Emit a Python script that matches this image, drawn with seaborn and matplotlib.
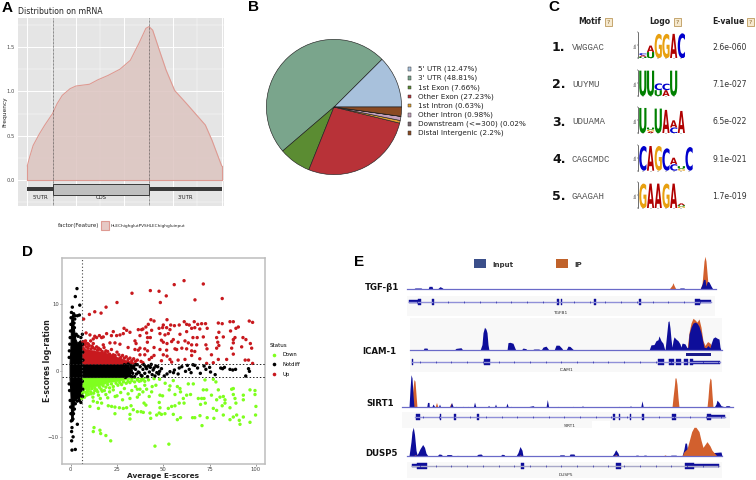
import numpy as np
import pandas as pd
import seaborn as sns
from matplotlib import pyplot as plt
from matplotlib.font_manager import FontProperties
from matplotlib.patches import PathPatch, Rectangle
from matplotlib.textpath import TextPath
from matplotlib.transforms import Affine2D, Bbox

# panel A: metagene density
metagene_pos = [0, .012, .03, .062, .09, .13, .153, .18, .22, .25, .32, .363, .416, .477, .53, .574, .61, .626, .645, .68, .714, .758, .82, .872, .916, .95, .986, 1]
metagene_freq = [.16, .26, .39, .52, .62, .75, .86, .955, 1.03, 1.06, 1.08, 1.13, 1.18, 1.25, 1.35, 1.54, 1.71, 1.73, 1.69, 1.46, 1.24, 1.01, .86, .73, .62, .45, .24, .16]
cds_start, cds_stop = .13, .626
a_yticks = [0.0, 0.5, 1.0, 1.5]

# panel B: peak annotation
pie_names = ["5' UTR (12.47%)", "3' UTR (48.81%)", "1st Exon (7.66%)", "Other Exon (27.23%)", "1st Intron (0.63%)",
             "Other Intron (0.98%)", "Downstream (<=300) (0.02%)", "Distal Intergenic (2.2%)"]
pie_values = [12.47, 48.81, 7.66, 27.23, 0.63, 0.98, 0.02, 2.2]
pie_colors = ['#a8c1dc', '#7aa58c', '#5b8c32', '#b83238', '#e0a030', '#c4a0bc', '#7b6a70', '#8a4a22']

# panel C: motif table
motif_names = ['VWGGAC', 'UUYMU', 'UDUAMA', 'CAGCMDC', 'GAAGAH']
motif_evalues = ['2.6e-060', '7.1e-027', '6.5e-022', '9.1e-021', '1.7e-019']
motif_logos = [
    [[('U', .12), ('A', .12), ('C', .16)], [('U', .48), ('A', .5)], [('G', 1.88)], [('G', 1.88)], [('A', 1.88)], [('C', 1.92)]],
    [[('U', 1.95)], [('U', 1.95)], [('U', .45), ('C', .52)], [('A', .45), ('C', .5)], [('U', 1.95)]],
    [[('U', 1.95)], [('A', .14), ('G', .14), ('U', .16)], [('U', 1.9)], [('A', 1.8)], [('C', .45), ('A', .55)], [('A', 1.72)]],
    [[('C', 1.9)], [('A', 1.9)], [('G', 1.9)], [('C', 1.72)], [('C', .5), ('A', .5)], [('G', .15), ('U', .2)], [('C', 1.82)]],
    [[('G', 1.9)], [('A', 1.9)], [('A', 1.9)], [('G', 1.9)], [('A', 1.9)], [('G', .14), ('U', .1), ('A', .14)]],
]
logo_colors = {'A': '#b00000', 'C': '#0000cc', 'G': '#e8a010', 'U': '#008000'}

# panel D: sparse points
up_x = [61.2, 71.6, 55.9, 43, 47.7, 33.1, 51.6, 81.8, 67.1, 48.4, 25, 19.1, 13, 10.1, 16.4, 7,
        41.9, 43.3, 45, 50, 52, 54, 56, 58.6, 61.3, 62.6, 64, 66.7, 68.6, 70.7, 72.8, 79.7, 81.8, 86, 87.8, 96.4, 98.2,
        39, 40.6, 43.7, 47.7, 49.6, 51.8, 53.6, 38.3, 36.5, 28.8, 30.2, 32, 65.3, 67, 69.7, 73.7, 90.5, 89.2, 86.3, 62.6, 80, 48.2, 52.7, 41, 37.4,
        19.4, 23, 22, 24.8, 28.4, 26.6, 17.6, 16.7, 14, 12.2, 10.8, 8.3, 10.4, 13, 15.5, 50.9, 41.5, 43, 59, 66, 68.3, 71.6, 78.8, 82.4, 88.7, 87.8, 93, 94.6,
        7.7, 9.5, 12.2, 17.6, 21.2, 23.9, 26.6, 34.7, 35.3, 41.4, 49, 50, 55.4, 54.5, 52, 58, 61.7, 63.5, 65.3, 68, 73, 79.4, 80, 87.8, 97,
        31, 36.5, 37.4, 34.7, 40, 41.5, 45, 48.2, 51.8, 56.3, 57.2, 60, 62.6, 65.3, 67, 73.6, 78.8, 86.9, 92.3, 97.7,
        37.4, 40, 45, 50, 52, 53.6, 43.7, 42.4, 49, 54.5, 58, 61.7, 65.3, 69.7, 76, 79.7, 84.2, 87.8, 94.2, 96, 98.2, 77, 73.4,
        # fringe above the red wedge
        6.6, 7, 7.5, 8, 8.6, 9, 9.4, 10, 11, 11.5, 12, 13, 14, 14.5, 15, 16, 17, 18, 18.5, 19, 20, 21, 22, 23, 24, 25, 26, 27, 28, 29, 30, 31, 32, 33, 34, 35, 36, 38, 39]
up_y = [13.6, 13.1, 13, 12.1, 12, 11.7, 11.3, 10.9, 10.7, 10.3, 10.3, 9.6, 8.9, 8.5, 8.7, 7.8,
        7, 7.7, 7.5, 6.9, 7.7, 6.9, 6.8, 6.9, 7.4, 7, 6.9, 7.4, 7, 7.1, 7.1, 7.2, 7.1, 7.4, 7.4, 7.5, 7.3,
        6.3, 6.6, 6.1, 6.4, 6.5, 6.5, 6.2, 6.2, 6.2, 6.4, 6.1, 5.8, 6.4, 6.5, 6.3, 6.4, 6.6, 6.4, 6, 5.9, 5.8, 5.6, 5.6, 5.7, 5.3,
        5.6, 5.9, 5.3, 5.3, 5.6, 5.4, 5.1, 5, 5, 4.8, 4.5, 5.7, 5.4, 5.2, 5.3, 5.4, 5, 5, 5.5, 5, 5, 5.1, 5, 5.1, 5, 4.7, 5, 4.7,
        4.2, 4, 4.1, 3.9, 4.2, 4.2, 4, 4.5, 4.1, 4.3, 4.6, 4.3, 4.7, 4.4, 4.1, 4.3, 4.5, 4.2, 3.9, 3.9, 3.9, 4.3, 3.8, 4.2, 4.1,
        3.5, 3.1, 3.4, 3.2, 3.3, 3, 3.5, 3.2, 3.1, 3.3, 3.2, 3.4, 3.3, 3, 2.9, 3.3, 3.4, 3.4, 3.6, 3.4,
        2.4, 2.4, 2.3, 2.4, 2.2, 1.7, 2, 1.7, 1.5, 1.3, 1.6, 1.7, 2.3, 1.8, 2.4, 1.7, 1.7, 2.5, 1.6, 1.6, 1.1, 1.2, 1.1,
        4.4, 4, 3.9, 4.5, 3.6, 4.1, 3.4, 3.8, 3.3, 3.7, 3.5, 3.3, 3.6, 3.1, 3.4, 3.2, 2.9, 3.5, 2.7, 3, 2.9, 2.5, 3.2, 2.4, 2.3, 2.8, 2.4, 2, 2.3, 1.9, 2.1, 1.7, 1.9, 1.5, 1.8, 1.4, 1.6, 1.4, 1.2]
down_x = [6, 8.6, 10.4, 12.2, 14.4, 16.7, 15, 20.3, 22.1, 23.9, 26.3, 28.4, 30.2, 32.6, 33.8, 36, 38, 39.2, 23.9, 32, 32, 42.8, 43.2, 46.4, 47.8, 49, 50.9, 55.4, 57.6, 59.3,
          65.8, 67, 69.8, 70.9, 73.7, 77.3, 82.4, 86, 87.8, 89.6, 91.4, 93.2, 91, 96.8, 99.8,
          12.6, 12.2, 15.8, 16.2, 19, 21.6, 45.5, 53,
          37.4, 36, 41, 39, 43.7, 42.4, 39.6, 40.6, 48.2, 49.6, 47.8, 48.2, 53.6, 53.2, 55.4, 57.6, 59, 59.3, 56.3, 54.5, 52.7, 56.3, 58.6, 60.8, 61.2, 63.5, 66.2, 62.6, 64.7,
          71.6, 73.4, 72.5, 77, 78.4, 68.9, 70.7, 72, 70.1, 72.7, 76, 79.7, 78.8, 80.6, 82.4, 83.3, 86, 77, 78.8, 81.8, 83.3, 87.8, 86.9, 87.8, 88.7, 89.2, 93.2, 96.8, 99.5, 99.5, 93.2, 100,
          9, 11, 13, 15, 17, 19, 21, 23, 25, 27, 29, 31, 33, 35, 37, 40, 44, 46, 51, 8, 12, 16, 20, 24, 28, 32, 36,
          # fringe under the green wedge
          6.5, 7, 7.5, 8.2, 9, 9.6, 10, 10.8, 11.5, 12.4, 13, 14, 14.6, 15.5, 16.4, 17.5, 18.2, 19, 20, 21, 22, 23, 24.5, 25.5, 26.5, 27.5, 28.5, 30, 31, 32, 33, 34.5, 36, 37, 38, 39, 40, 42, 45, 48]
down_y = [-4.2, -3.7, -5.4, -4.6, -4.8, -4.9, -5.7, -5.3, -5.4, -5.5, -5.6, -5.7, -5.6, -5.3, -5.9, -6.2, -6.2, -6.3, -6.5, -6.6, -7.3, -6.4, -7.2, -6.7, -6.4, -6.6, -6.5, -6.6, -7.4, -7.1,
          -7.1, -7.1, -6.8, -8.3, -7.1, -7.2, -6.7, -7.4, -7, -6.7, -8.1, -7, -7.5, -7.8, -6.7,
          -8.6, -9.2, -9, -9.5, -9.8, -10.6, -11.4, -11.1,
          -2.8, -2.8, -2.8, -3.2, -3.2, -3.9, -4.9, -5.2, -3.7, -3.8, -4.8, -5.6, -2.3, -2.9, -1.5, -2.4, -2.7, -3.2, -3.6, -5.4, -5.7, -5.3, -4.9, -4.2, -4.9, -2, -2, -3.7, -3.6,
          -2.9, -2.9, -1.4, -1.3, -1.7, -4.2, -4.2, -4.2, -5.1, -4.9, -3.7, -2.9, -4.4, -4, -3.9, -4.4, -5.6, -5.7, -6, -5.3, -4.9, -2.7, -2.8, -3.6, -4.2, -4.9, -3.7, -2.9, -3, -3.6, -4.4, -5.4,
          -3.2, -3.5, -3, -3.7, -3.1, -3.6, -3.2, -2.9, -3.8, -3.3, -2.7, -3.5, -3, -2.4, -3.6, -2.2, -2.4, -2.2, -1.9, -2.6, -4, -4.2, -4.1, -3.9, -4.4, -4.2, -4,
          -3.4, -3.1, -4, -3.3, -2.9, -3.6, -2.8, -3.2, -2.7, -3.4, -2.6, -2.9, -3.2, -2.5, -2.8, -2.3, -3, -2.5, -2.1, -2.6, -2, -2.4, -1.9, -2.2, -1.8, -2.1, -1.7, -1.9, -1.6, -1.8, -1.5, -1.7, -1.4, -1.6, -1.5, -1.3, -1.6, -1.4, -1.2, -1.3]
flat_x = [3.4, 2.5, 4.9, .9, 4.7, 2.3, 3.6, 1.4, 6.3, 3.6, .7, .5, 1.3, .5, .7, 2.5,
          31, 32, 33, 34, 34.5, 35, 35.5, 36, 37, 37.5, 38, 39, 39.5, 40, 41, 41.5, 42, 42.5, 43, 43.5, 44, 44.5, 45, 45.5, 46, 46.5, 47, 47.5, 48, 49,
          53.6, 55.5, 56, 58, 58.6, 60, 62, 63, 64, 66, 67, 68.5, 70, 72, 73, 75, 75.5, 78, 81, 82, 83, 86, 87.5, 89, 96, 96.5, 94.5, 65, 52, 50.5,
          # fringe round the dense column and the end of the band
          5.5, 4, 3, 2.5, 2, 1.8, 2.2, 1.6, .4, .2, .1, -.1, -.3, -.5, -.7, -.8, 5.5, 4.5, 3.5, 2.5, 2, 1.5, 1.2, .8, .3, .1, 0, -.3, -.6, -.8,
          6.4, 6.5, 6.6, 6.3, 6.5, 6.4, 29, 30, 30.5, 31.5, 32.5, 33.5, 29.5, 31, 33, 34, 35, 36.5, 38.5, 40.5]
flat_y = [12.4, 11.2, 9.9, 9.6, 8.4, 8.3, 8.3, 8.2, 5.5, -8.1, -8.6, -9.2, -10, -10.6, -12, -11.9,
          .9, -.8, .5, .7, -.9, .2, -.5, .9, -.3, .6, -.7, .2, .9, -.4, .3, -.9, .7, -.2, .5, .95, -.6, .1, .4, -.8, .7, -.3, .6, -.5, -.1, .3,
          -.15, -.3, .1, -.5, .4, .6, -.1, .8, .2, .9, .8, .4, -.4, .7, .2, .5, -.2, -.6, .4, .3, .5, .2, .1, .2, .3, -.1, -.8, -.3, -.5, -.8,
          5, 5.2, 5.5, 5.3, 6.5, 7.2, 7.8, 8.6, 8.8, 8, 7, 6, 5, 4, 3, 2, -4.8, -4.5, -4.6, -5, -5.8, -6.5, -7.3, -7.5, -7.6, -6.5, -5.5, -4.5, -3, -2,
          4, 2.8, 1.6, -1.6, -2.8, -3.9, .9, -.9, .6, -.6, .8, -.4, -1, 1, -.9, .4, .9, -.2, -.8, .6]
d_status = ['Up'] * len(up_x) + ['Down'] * len(down_x) + ['Notdiff'] * len(flat_x)
# dense masses where single points cannot be told apart
flat_mass_x = [-.6, -.2, .3, 1, 1.8, 2.5, 3.5, 5, 6, 6.1, 15, 25, 29, 31, 33]
flat_mass_top = [1.2, 3, 7.8, 8.4, 6.2, 4.8, 4.2, 4.6, 4.2, 1.1, 1.05, 1.05, 1, .8, .2]
flat_mass_bottom = [-1.2, -3, -7.4, -7.2, -4.6, -4.4, -4.1, -4.4, -4, -1.1, -1.05, -1.05, -1, -.8, -.2]
up_mass_x = [6.2, 8, 12, 16, 21, 25, 30, 33, 36]
up_mass_top = [3.9, 3.3, 3.1, 2.9, 2.6, 2.1, 1.6, 1.4, 1.0]
down_mass_x = [6.2, 8, 12, 16, 21, 25, 30, 35, 41]
down_mass_bottom = [-2.9, -2.7, -2.4, -2.2, -1.7, -1.6, -1.3, -1.15, -1.0]
d_xticks = [0, 25, 50, 75, 100]
d_yticks = [-10, 0, 10]

# panel E: coverage tracks, positions along the browser window
tgf_in_x = [13, 15, 21, 23, 28, 29, 32, 33, 37, 40, 42, 44, 279, 280, 284, 285, 300, 302, 303.5, 305, 306, 307, 308, 309, 311, 313]
tgf_in_y = [0, .04, .04, 0, 0, .09, .09, 0, 0, .08, .05, 0, 0, .04, .04, 0, 0, .15, .3, .3, .1, .22, .24, .22, .1, 0]
tgf_ip_x = [269, 272, 273, 274, 276, 300, 302, 303, 304, 305, 306, 307, 308, 310]
tgf_ip_y = [0, .12, .2, .12, 0, 0, .15, .5, .85, 1, .85, .5, .15, 0]
icam_in_x = [23, 24, 27, 28, 54, 56, 61, 63, 80, 82, 83, 84.5, 86, 87, 88, 89, 107, 108, 110, 113, 115, 116, 121, 123, 126, 127, 131, 134, 139, 140,
             141, 143, 146, 148, 149, 154, 156, 159, 162, 163, 166, 168, 170, 173, 174, 240, 241, 244, 245, 249, 251, 254, 256, 258, 259, 261, 263, 264,
             265, 266, 268, 269, 270, 271, 272, 273, 274, 276, 278, 280, 281, 282, 283, 285, 287, 288, 289, 291, 293, 295, 297, 299, 301, 303, 304, 306, 308, 310, 311, 313, 315, 317, 319, 320, 321]
icam_in_y = [0, .07, .07, 0, 0, .06, .08, 0, 0, .18, .55, .72, .66, .55, .18, 0, 0, .24, .25, .22, .06, 0, 0, .07, .05, 0, 0, .04, .04, 0,
             0, .1, .13, .05, 0, 0, .16, .16, .06, 0, 0, .13, .12, .03, 0, 0, .02, .02, 0, 0, .17, .18, .3, .33, .45, .3, .22, .1,
             0, .3, .9, .92, .7, .35, .1, .3, .42, .35, .3, .2, .1, .22, .22, .2, .08, .1, .5, .72, .85, .88, .85, .75, .55, .25, .1, .08, .15, .08, .2, .38, .42, .38, .35, .1, 0]
icam_ip_x = [56, 66, 68, 72, 287, 289, 291, 293, 295, 297, 299, 301, 303, 305, 307, 308, 310, 312, 313]
icam_ip_y = [0, 0, .02, 0, 0, .55, .85, 1, .95, .88, .98, .72, .3, .15, .25, .27, .22, .12, 0]
sirt_in_x = [9, 10, 11, 12, 13, 14, 26.7, 27.5, 29, 29.3, 31.7, 33, 35, 38.3, 39.5, 40.7, 50, 51.5, 53.3, 55, 56, 58, 61.7, 63, 65, 67, 68, 69, 73.3, 74.5, 76,
             87.3, 88.5, 90, 94.3, 95.5, 96.7, 105.7, 107, 108.3, 110, 111, 112.7, 125, 130, 133, 135, 146, 147.3, 148.7, 157, 158, 158.7, 171.7, 173, 175, 181.7, 182.5, 183.3,
             218, 219, 220.7, 229.3, 230.5, 231.7, 240.7, 242, 243.3, 248, 249, 250, 280, 281, 283, 296, 297, 314, 316, 317, 319, 321, 323, 325, 326, 327, 329, 331]
sirt_in_y = [0, .55, 1, .9, .4, 0, 0, .15, .15, 0, 0, .1, 0, 0, .1, 0, 0, .15, 0, 0, .03, 0, 0, .03, 0, 0, .03, 0, 0, .16, 0,
             0, .06, 0, 0, .1, 0, 0, .13, 0, 0, .03, 0, 0, .03, .05, 0, 0, .24, 0, 0, .03, 0, 0, .03, 0, 0, .06, 0,
             0, .03, 0, 0, .05, 0, 0, .2, 0, 0, .03, 0, 0, .02, 0, 0, .02, 0, .1, .22, .15, .05, .03, 0, .05, .05, .05, 0]
sirt_ip_x = [10, 12, 13, 14, 15, 16, 17, 35, 36.5, 38, 49, 51, 53, 272, 273, 274.5, 275, 276, 277, 278, 279, 307, 308, 309, 310, 311, 312, 313]
sirt_ip_y = [0, .3, .6, .85, .8, .4, 0, 0, .15, 0, 0, .13, 0, 0, .3, .7, .9, .9, .7, .3, 0, 0, .3, .7, .9, .85, .4, 0]
dusp_in_x = [9, 11, 12, 13.3, 14.5, 16, 17, 18, 20, 22.7, 24.5, 26, 28, 37, 39, 41, 43, 46, 47, 51, 53, 56, 57, 76, 78, 81, 83, 100, 102, 104, 105,
             116, 118, 120, 122, 123, 159, 160, 164, 165, 169, 170, 174, 175, 212, 214, 215.7, 218, 219, 235, 236, 238, 239, 243, 244, 246, 247, 270, 271, 276, 277, 282, 284, 285, 286.5, 288, 312, 313.5, 321, 322]
dusp_in_y = [0, .5, .85, 1, .75, .2, .05, .1, .25, .4, .3, .1, 0, 0, .07, .06, 0, 0, .05, .05, 0, 0, .02, 0, .06, .07, 0, 0, .06, .05, 0,
             0, .12, .33, .2, 0, 0, .04, .04, 0, 0, .07, .07, 0, 0, .1, .22, .1, 0, 0, .03, .03, 0, 0, .03, .03, 0, 0, .03, .03, 0, 0, .25, .45, .45, .1, .03, .12, .14, 0]
dusp_ip_x = [13, 15, 18, 118, 120, 122, 213, 216, 218, 263, 265, 267, 282, 284, 287, 289, 291.7, 294, 296, 299, 301, 303, 305, 307, 310, 312, 315, 317]
dusp_ip_y = [0, .04, 0, 0, .04, 0, 0, .05, 0, 0, .04, 0, 0, .15, .25, .5, .85, 1, 1, .85, .55, .3, .4, .5, .35, .2, .08, 0]

# gene models: tall exons, thin exons
genes = {
    'TGFB1': dict(span=(9, 311), tall=[(18, 21), (32, 34), (157, 159), (161, 162), (194, 195.5), (239, 241), (295, 300)], thin=[(9, 18), (300, 311)]),
    'ICAM1': dict(span=(12, 320), tall=[(12, 13), (84, 90), (258, 264), (269, 274), (276, 281), (284, 288), (290, 293)], thin=[(293, 320)]),
    'SIRT1': dict(span=(15, 325), tall=[(15.5, 20), (40, 40.7), (54, 56), (77, 78.5), (213, 214.5), (218.5, 220), (230, 231), (242, 243.5), (272, 276), (307, 311)], thin=[(311, 325)]),
    'DUSP5': dict(span=(12, 319), tall=[(17, 27), (121, 124), (216, 221), (285, 294)], thin=[(12, 17), (294, 319)]),
}

PANEL_FONT = 'Liberation Sans'
fig = plt.figure(figsize=(7.56, 4.8), dpi=100, facecolor='white')
plt.rcParams['font.family'] = ['DejaVu Sans']


def px_axes(x0, y0, x1, y1, **kw):
    # axes placed in reference pixels, y counted from the top
    return fig.add_axes([x0 / 756, 1 - y1 / 480, (x1 - x0) / 756, (y1 - y0) / 480], **kw)


page = px_axes(0, 0, 756, 480)
page.set_xlim(0, 756)
page.set_ylim(480, 0)
page.axis('off')

for letter, lx, ly in [('A', 2, 8), ('B', 248, 7), ('C', 548, 7), ('D', 22, 252), ('E', 354, 262)]:
    page.text(lx, ly, letter, fontsize=11, fontweight='bold', family=PANEL_FONT, va='center', color='black')

# --- A ---
ax_a = px_axes(18, 18, 224, 206, facecolor='#e5e5e5')
sns.lineplot(x=metagene_pos, y=metagene_freq, ax=ax_a, color='#de9a92', lw=.8, sort=False, errorbar=None)
ax_a.fill_between(metagene_pos, metagene_freq, color='#dcc4c0', alpha=.85, lw=0)
ax_a.plot([0, 0], [0, metagene_freq[0]], color='#de9a92', lw=.8)
ax_a.plot([1, 1], [0, metagene_freq[-1]], color='#de9a92', lw=.8)
ax_a.plot([0, 1], [0, 0], color='#de9a92', lw=.8)
ax_a.set_xlim(-.048, 1.012)
ax_a.set_ylim(-.293, 1.827)
ax_a.set_axisbelow(True)
ax_a.set_xticks([0, .25, .5, .75, 1])
ax_a.set_xticks([.125, .375, .625, .875], minor=True)
ax_a.set_yticks(a_yticks)
ax_a.set_yticks([-.25, .25, .75, 1.25, 1.75], minor=True)
ax_a.grid(which='major', color='white', lw=.7)
ax_a.grid(which='minor', color='white', lw=.3)
ax_a.tick_params(which='both', length=0, labelbottom=False)
ax_a.tick_params(axis='y', labelsize=3.8, labelcolor='#4d4d4d', pad=2)
ax_a.set_yticklabels(['0.0', '0.5', '1.0', '1.5'])
ax_a.set_xlabel('')
ax_a.set_ylabel('')
for sp in ax_a.spines.values():
    sp.set_visible(False)
for edge in (cds_start, cds_stop):
    ax_a.axvline(edge, color='#333333', lw=.5, ls=(0, (1, 1)))
ax_a.fill_between([0, 1], -.125, -.08, color='#3a3a3a', lw=0)
ax_a.add_patch(Rectangle((cds_start, -.165), cds_stop - cds_start, .125, fc='#bfbfbf', ec='#3a3a3a', lw=.7, zorder=3))
for tx, word in [(.065, "5'UTR"), (.378, 'CDS'), (.813, "3'UTR")]:
    ax_a.text(tx, -.2, word, fontsize=3.8, ha='center', va='center', color='#222222')
page.text(5, 112, 'Frequency', fontsize=4.2, rotation=90, ha='center', va='center', color='#222222')
page.text(18, 11, 'Distribution on mRNA', fontsize=5.6, va='center', color='#222222')
page.text(58, 225.5, 'factor(Feature)', fontsize=4, va='center', color='#222222')
page.add_patch(Rectangle((100.5, 221), 8.5, 8.5, fc='#e6c9c5', ec='#de9a92', lw=.8))
page.text(111, 225.5, 'HLEChighglutPVSHLEChighgluinput', fontsize=3.05, va='center', color='#222222')

# --- B ---
ax_b = px_axes(263, 36, 405, 178)
wedges, _ = ax_b.pie(pie_values, colors=pie_colors, startangle=0, counterclock=True, radius=1,
                     wedgeprops=dict(edgecolor='#222222', linewidth=.45))
ax_b.set_xlim(-1.05, 1.05)
ax_b.set_ylim(-1.05, 1.05)
for row, (name, colour) in enumerate(zip(pie_names, pie_colors)):
    row_y = 69 + row * 9.15
    page.add_patch(Rectangle((408, row_y - 1.8), 2.8, 3.6, fc=colour, ec='#333333', lw=.35))
    label = page.text(417.5, row_y, name, fontsize=5.25, va='center', color='#222222', clip_on=True)
    # the reference cuts the long label at the panel edge
    label.set_clip_box(Bbox([[400, 0], [525.5, 480]]))

# --- C ---
for word, wx, bx in [('Motif', 590, 608.5), ('Logo', 660, 677.5), ('E-value', 728, 750.5)]:
    page.text(wx, 22, word, fontsize=5.6, fontweight='bold', ha='center', va='center', color='#222222')
    page.text(bx, 22, '?', fontsize=4.5, ha='center', va='center', color='#8a6a30',
              bbox=dict(boxstyle='square,pad=0.25', fc='#f6e9cf', ec='#b08840', lw=.5))
row_centres = [47.3, 84.7, 122, 159.7, 196.7]
logo_bases = [58.3, 96, 133.3, 170.7, 208.3]
letter_font = FontProperties(family='DejaVu Sans', weight='bold')
for i, (name, evalue) in enumerate(zip(motif_names, motif_evalues)):
    page.text(552, row_centres[i], f'{i + 1}.', fontsize=9, fontweight='bold', va='center', color='#111111')
    page.text(572, row_centres[i], name, fontsize=6.6, family='Liberation Mono', va='center', color='#555555')
    page.text(712.5, row_centres[i], evalue, fontsize=5.6, va='center', color='#333333')
    logo = motif_logos[i]
    base = logo_bases[i]
    ax_l = px_axes(639, base - 26, 639 + 7.7 * len(logo), base, facecolor='none')
    ax_l.set_xlim(0, len(logo))
    ax_l.set_ylim(0, 2)
    for pos, stack in enumerate(logo):
        floor = 0
        for letter, height in stack:
            glyph = TextPath((0, 0), letter, size=1, prop=letter_font)
            box = glyph.get_extents()
            place = (Affine2D().translate(-box.x0, -box.y0).scale(.94 / box.width, height / box.height)
                     .translate(pos + .03, floor))
            ax_l.add_patch(PathPatch(place.transform_path(glyph), fc=logo_colors[letter], ec='none'))
            floor += height
    ax_l.set_xticks(np.arange(len(logo)) + .5)
    ax_l.set_yticks([0, 1, 2])
    ax_l.tick_params(length=1, width=.3, labelleft=False, labelbottom=False, pad=0)
    for side in ('top', 'right', 'bottom'):
        ax_l.spines[side].set_visible(False)
    ax_l.spines['left'].set_linewidth(.4)
    ax_l.spines['left'].set_position(('outward', 1))
    page.text(636, base - 13, 'bits', fontsize=2.2, rotation=90, ha='center', va='center', color='#333333')

# --- D ---
ax_d = px_axes(61.7, 258.3, 265, 464)
d_frame = pd.DataFrame({'x': up_x + down_x + flat_x, 'y': up_y + down_y + flat_y, 'Status': d_status})
ax_d.fill_between(flat_mass_x, flat_mass_bottom, flat_mass_top, color='black', lw=.8, zorder=1)
ax_d.fill_between(up_mass_x, 1.05, up_mass_top, color='#c8191e', lw=.4, zorder=2)
ax_d.fill_between(down_mass_x, down_mass_bottom, -1.05, color='#7fff1e', lw=.4, zorder=2)
sns.scatterplot(data=d_frame, x='x', y='y', hue='Status', hue_order=['Down', 'Notdiff', 'Up'],
                palette={'Down': '#7fff1e', 'Notdiff': 'black', 'Up': '#c8191e'},
                s=6, linewidth=0, ax=ax_d, zorder=3)
ax_d.axhline(1, color='#222222', lw=.7, ls=(0, (1.5, 2)), zorder=4)
ax_d.axhline(-1, color='#222222', lw=.7, ls=(0, (1.5, 2)), zorder=4)
ax_d.axvline(6, color='#444444', lw=.8, ls=(0, (1, 2)), zorder=4)
ax_d.set_xlim(-4.85, 104.9)
ax_d.set_ylim(-14.1, 16.98)
ax_d.set_xticks(d_xticks)
ax_d.set_yticks(d_yticks)
ax_d.tick_params(labelsize=3.8, length=1.2, width=.4, pad=.8, labelcolor='#444444', color='#444444')
ax_d.set_xlabel('')
ax_d.set_ylabel('')
page.text(163, 476, 'Average E-scores', fontsize=5.3, fontweight='bold', ha='center', va='center', color='#222222')
page.text(47, 361, 'E-scores log-ration', fontsize=5.6, fontweight='bold', rotation=90, ha='center', va='center', color='#222222')
for sp in ax_d.spines.values():
    sp.set_color('#bdbdbd')
    sp.set_linewidth(1.1)
leg = ax_d.legend(title='Status', loc='upper left', bbox_to_anchor=(1.01, .6), frameon=False, fontsize=3.8,
                  title_fontsize=4, labelspacing=.9, markerscale=1.05, alignment='left', handletextpad=.6, borderaxespad=0)
for handle in leg.legend_handles:
    handle.set_markersize(2.6)

# --- E ---
track_colors = {'input': '#0e0e9a', 'ip': '#d2602e', 'base': '#6a6ac8'}
page.add_patch(Rectangle((474, 259), 11.5, 9, fc='#3b4f8a', ec='none'))
page.add_patch(Rectangle((556, 259), 11.5, 9, fc='#c0622a', ec='none'))
page.text(492, 265, 'Input', fontsize=5, fontweight='bold', va='center', color='#333333')
page.text(574, 265, 'IP', fontsize=5, fontweight='bold', va='center', color='#333333')

for name, tx, ty in [('TGF-β1', 365, 288), ('ICAM-1', 362, 352), ('SIRT1', 366, 403), ('DUSP5', 365, 454)]:
    page.text(tx, ty, name, fontsize=6.2, fontweight='bold', va='center', color='#111111')

# grey gene panels behind the tracks
for bx, by, bw, bh in [(407, 296, 308, 20), (410, 318, 312, 54), (402, 412, 328, 16), (407, 462, 315, 16)]:
    page.add_patch(Rectangle((bx, by), bw, bh, fc='#f8f8f8', ec='none'))
page.add_patch(Rectangle((592, 421), 18, 7, fc='white', ec='none'))


def draw_track(x_in, y_in, x_ip, y_ip, base_px, height_px, x_from, x_to, ip_front=False):
    ax = px_axes(400, base_px - height_px, 740, base_px, facecolor='none')
    ax.set_xlim(0, 340)
    ax.set_ylim(0, 1)
    ax.axis('off')
    ax.fill_between(x_ip, y_ip, color=track_colors['ip'], lw=0, zorder=3 if ip_front else 1)
    ax.fill_between(x_in, y_in, color=track_colors['input'], lw=0, zorder=2)
    ax.plot([x_from, x_to], [0, 0], color=track_colors['base'], lw=.9, clip_on=False, zorder=4)
    return ax


draw_track(tgf_in_x, tgf_in_y, tgf_ip_x, tgf_ip_y, 289.3, 33, 7, 316)
draw_track(icam_in_x, icam_in_y, icam_ip_x, icam_ip_y, 350.3, 32, 10, 322)
draw_track(sirt_in_x, sirt_in_y, sirt_ip_x, sirt_ip_y, 407.3, 32.6, 2, 333)
draw_track(dusp_in_x, dusp_in_y, dusp_ip_x, dusp_ip_y, 456, 28.7, 7, 322, ip_front=True)


def draw_gene(name, y_px, label_px, line_colour='#9090d8'):
    spec = genes[name]
    ax = px_axes(400, y_px - 4, 740, y_px + 4, facecolor='none')
    ax.set_xlim(0, 340)
    ax.set_ylim(-4, 4)
    ax.axis('off')
    ax.plot(spec['span'], [0, 0], color=line_colour, lw=1)
    ticks = np.arange(spec['span'][0] + 8, spec['span'][1], 15.7)
    ax.plot(ticks, np.zeros(len(ticks)), ls='none', marker='|', ms=1.6, mew=.4, color=track_colors['input'])
    for a, b in spec['tall']:
        ax.fill_between([a, b], -3, 3, color=track_colors['input'], lw=.3)
    for a, b in spec['thin']:
        ax.fill_between([a, b], -1.7, 1.7, color=track_colors['input'], lw=.3)
    page.text(sum(spec['span']) / 2 + 400, label_px, name, fontsize=3.2, ha='center', va='center', color='#333333')


draw_gene('TGFB1', 301.7, 313)
draw_gene('ICAM1', 362.3, 370)
draw_gene('SIRT1', 416.7, 426)
draw_gene('DUSP5', 465.7, 475, line_colour='#a8a8c8')
page.add_patch(Rectangle((686, 352.5), 25, 3, fc='#1a1a8a', ec='none'))

fig.savefig('out.png', dpi=100)
